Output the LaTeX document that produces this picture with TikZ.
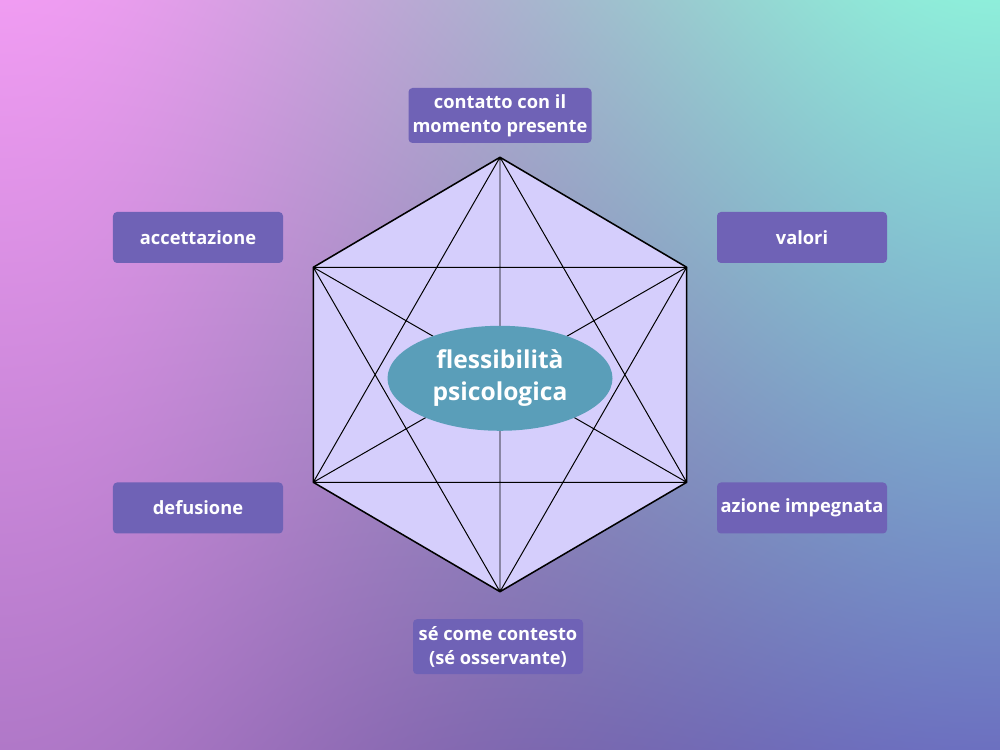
\documentclass[tikz,border=0pt]{standalone}
\usepackage{fontspec}
\setmainfont{Open Sans}
\usetikzlibrary{positioning,shapes}
\definecolor{boxpurple}{HTML}{6F62B6}
\definecolor{hexfill}{HTML}{D5CEFC}
\definecolor{coreteal}{HTML}{5A9EB9}
\pgfdeclarefunctionalshading{lowpoly}{\pgfpoint{0bp}{0bp}}{\pgfpoint{100bp}{100bp}}{}{
  25 sub 50 div exch 25 sub 50 div
  dup dup mul exch 2 mul 3 exch sub mul exch
  2 copy mul
  dup -0.118 mul 3 index -0.266 mul add 2 index 0.251 mul add 0.690 add
  1 index 0.353 mul 4 index -0.032 mul add 3 index 0.141 mul add 0.471 add
  2 index -0.063 mul 5 index -0.031 mul add 4 index 0.165 mul add 0.784 add
  5 index dup 1 exch sub mul 0.4 mul 1 exch sub
  4 1 roll
  3 index mul exch 3 index mul exch
  3 -1 roll 3 index mul 3 1 roll
  7 3 roll pop pop pop pop
}

\begin{document}
\begin{tikzpicture}[x=0.25mm,y=0.25mm]
  \tikzset{
    labelbox/.style={fill=boxpurple,rounded corners=1mm,text=white,align=center,inner sep=0pt,
      font=\bfseries\fontsize{13}{17}\selectfont,minimum width=42.5mm,minimum height=12.75mm},
    core/.style={ellipse,fill=coreteal,text=white,align=center,inner sep=0pt,
      font=\bfseries\fontsize{17.5}{22.7}\selectfont,minimum width=56.25mm,minimum height=26.25mm},
    edge/.style={line width=0.7pt},
  }
  \shade[shading=lowpoly] (0,0) rectangle (1000,750);

  \coordinate (vt) at (500,592.7);
  \coordinate (vur) at (686.7,482.7);
  \coordinate (vlr) at (686.7,267.7);
  \coordinate (vb) at (500,158.3);
  \coordinate (vll) at (313.3,267.7);
  \coordinate (vul) at (313.3,482.7);

  \filldraw[fill=hexfill,line width=1.1pt,line join=round]
  (vt) -- (vur) -- (vlr) -- (vb) -- (vll) -- (vul) -- cycle;
  \draw[edge] (vt) -- (vb) (vul) -- (vur) (vll) -- (vlr)
  (vt) -- (vll) (vt) -- (vlr) (vb) -- (vul) (vb) -- (vur)
  (vul) -- (vlr) (vur) -- (vll);

  \node[core] (flex) at (500,371.7) {flessibilità\\psicologica};

  \node[labelbox,minimum width=45.75mm,minimum height=13.75mm] (contatto) at (500,634.5) {contatto con il\\momento presente};
  \node[labelbox] (accett) at (198,512.5) {accettazione};
  \node[labelbox] (valori) at (802,512.5) {valori};
  \node[labelbox] (defus) at (198,242) {defusione};
  \node[labelbox] (azione) at (802,242) {azione impegnata};
  \node[labelbox,minimum height=13.75mm] (se) at (498,103.3) {sé come contesto\\(sé osservante)};
\end{tikzpicture}
\end{document}
